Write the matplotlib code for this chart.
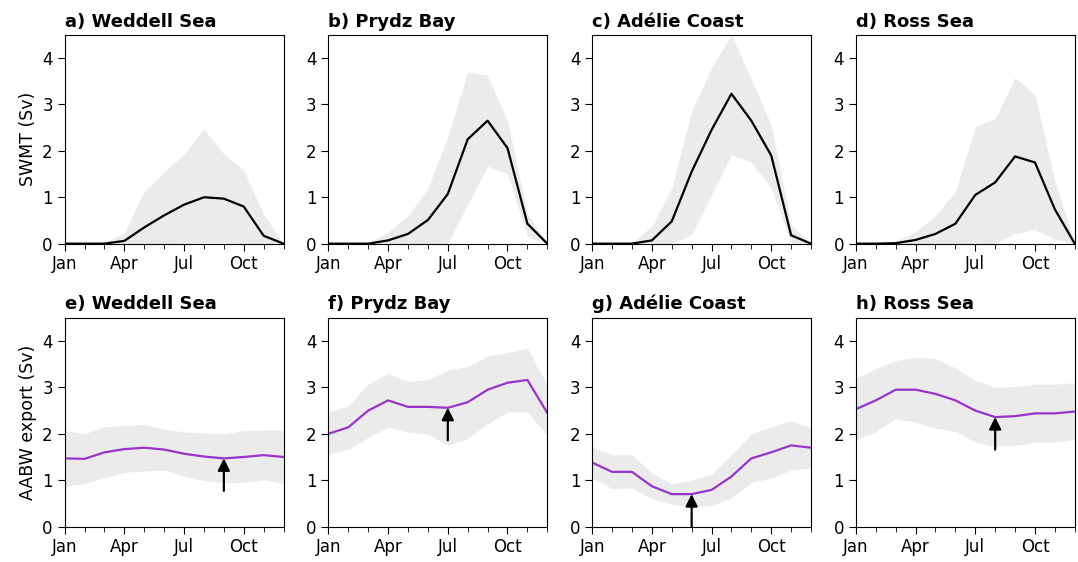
import numpy as np
import matplotlib
matplotlib.use("Agg")
import matplotlib.pyplot as plt

# ================================
# Data
# ================================
months = ["Jan", "Feb", "Mar", "Apr", "May", "Jun",
          "Jul", "Aug", "Sep", "Oct", "Nov", "Dec"]
regions = ["Weddell Sea", "Prydz Bay", "Adélie Coast", "Ross Sea"]

# SWMT (Sv): mean, upper and lower envelope
swmt_mean = {
    "Weddell Sea":  [0, 0, 0, 0.06, 0.35, 0.61, 0.84, 1.00, 0.97, 0.80, 0.17, 0],
    "Prydz Bay":    [0, 0, 0, 0.07, 0.21, 0.51, 1.07, 2.25, 2.65, 2.06, 0.43, 0],
    "Adélie Coast": [0, 0, 0, 0.07, 0.48, 1.55, 2.45, 3.23, 2.65, 1.90, 0.18, 0],
    "Ross Sea":     [0, 0, 0.01, 0.08, 0.21, 0.43, 1.05, 1.32, 1.88, 1.75, 0.74, 0],
}
swmt_hi = {
    "Weddell Sea":  [0, 0.02, 0.03, 0.23, 1.13, 1.55, 1.93, 2.47, 1.93, 1.58, 0.63, 0],
    "Prydz Bay":    [0, 0, 0.02, 0.25, 0.60, 1.20, 2.30, 3.70, 3.63, 2.65, 0.65, 0],
    "Adélie Coast": [0, 0, 0.02, 0.38, 1.20, 2.85, 3.80, 4.50, 3.55, 2.55, 0.40, 0],
    "Ross Sea":     [0, 0.01, 0.05, 0.26, 0.60, 1.12, 2.52, 2.70, 3.58, 3.20, 1.35, 0],
}
swmt_lo = {
    "Weddell Sea":  [0, 0, 0, 0, 0, 0, 0, 0.02, 0.02, 0, 0, 0],
    "Prydz Bay":    [0, 0, 0, 0, 0, 0, 0, 0.85, 1.67, 1.50, 0.15, 0],
    "Adélie Coast": [0, 0, 0, 0, 0, 0.20, 1.05, 1.92, 1.75, 1.20, 0.02, 0],
    "Ross Sea":     [0, 0, 0, 0, 0, 0, 0, 0, 0.22, 0.30, 0.10, 0],
}

# AABW export (Sv): mean, upper and lower envelope
aabw_mean = {
    "Weddell Sea":  [1.47, 1.46, 1.60, 1.67, 1.70, 1.66, 1.57, 1.51, 1.47, 1.50, 1.54, 1.50],
    "Prydz Bay":    [2.00, 2.14, 2.50, 2.72, 2.58, 2.58, 2.56, 2.68, 2.95, 3.10, 3.16, 2.45],
    "Adélie Coast": [1.38, 1.18, 1.18, 0.87, 0.70, 0.70, 0.79, 1.08, 1.47, 1.60, 1.75, 1.70],
    "Ross Sea":     [2.53, 2.72, 2.95, 2.95, 2.86, 2.72, 2.50, 2.36, 2.38, 2.44, 2.44, 2.48],
}
aabw_hi = {
    "Weddell Sea":  [2.07, 2.00, 2.15, 2.18, 2.20, 2.10, 2.04, 2.02, 2.00, 2.07, 2.08, 2.08],
    "Prydz Bay":    [2.47, 2.60, 3.08, 3.30, 3.12, 3.17, 3.37, 3.45, 3.68, 3.75, 3.85, 3.05],
    "Adélie Coast": [1.72, 1.55, 1.55, 1.15, 0.92, 1.00, 1.13, 1.55, 2.00, 2.15, 2.28, 2.13],
    "Ross Sea":     [3.20, 3.40, 3.58, 3.64, 3.62, 3.42, 3.15, 3.00, 3.02, 3.07, 3.07, 3.10],
}
aabw_lo = {
    "Weddell Sea":  [0.88, 0.93, 1.05, 1.17, 1.20, 1.22, 1.09, 0.99, 0.95, 0.95, 1.01, 0.93],
    "Prydz Bay":    [1.57, 1.67, 1.92, 2.14, 2.04, 1.99, 1.75, 1.90, 2.22, 2.47, 2.47, 1.95],
    "Adélie Coast": [1.05, 0.82, 0.83, 0.60, 0.48, 0.42, 0.45, 0.62, 0.95, 1.05, 1.22, 1.27],
    "Ross Sea":     [1.87, 2.05, 2.33, 2.25, 2.12, 2.05, 1.82, 1.73, 1.75, 1.82, 1.82, 1.88],
}

# month index where the arrow points
arrow_month = {"Weddell Sea": 8, "Prydz Bay": 6, "Adélie Coast": 5, "Ross Sea": 7}

top_letters = ["a", "b", "c", "d"]
bot_letters = ["e", "f", "g", "h"]

# ================================
# Plot
# ================================
x = np.arange(len(months))
shade = "#ebebeb"
purple = "#9933cc"

fig, axes = plt.subplots(2, 4, figsize=(10.78, 5.62), dpi=100)
fig.subplots_adjust(left=0.060, right=0.997, top=0.938, bottom=0.063,
                    wspace=0.205, hspace=0.355)


def style_axis(ax):
    ax.set_xlim(0, 11)
    ax.set_ylim(0, 4.5)
    ax.set_xticks([0, 3, 6, 9])
    ax.set_xticklabels(["Jan", "Apr", "Jul", "Oct"])
    ax.set_xticks(x, minor=True)
    ax.set_yticks([0, 1, 2, 3, 4])
    ax.tick_params(axis="both", which="major", labelsize=12, length=5)
    ax.tick_params(axis="x", which="minor", length=3.5)


for i, reg in enumerate(regions):
    ax = axes[0, i]
    ax.fill_between(x, swmt_lo[reg], swmt_hi[reg], color=shade, lw=0)
    ax.plot(x, swmt_mean[reg], color="black", lw=1.6)
    style_axis(ax)
    ax.set_title(f"{top_letters[i]}) {reg}", loc="left",
                 fontweight="bold", fontsize=13)

    ax = axes[1, i]
    ax.fill_between(x, aabw_lo[reg], aabw_hi[reg], color=shade, lw=0)
    ax.plot(x, aabw_mean[reg], color=purple, lw=1.6)
    m = arrow_month[reg]
    y_tip = aabw_mean[reg][m]
    ax.annotate("", xy=(x[m], y_tip), xytext=(x[m], y_tip - 0.7),
                arrowprops=dict(arrowstyle="-|>", color="black", lw=1.6,
                                mutation_scale=18, shrinkA=0, shrinkB=0),
                annotation_clip=False)
    style_axis(ax)
    ax.set_title(f"{bot_letters[i]}) {reg}", loc="left",
                 fontweight="bold", fontsize=13)

axes[0, 0].set_ylabel("SWMT (Sv)", fontsize=12.5)
axes[1, 0].set_ylabel("AABW export (Sv)", fontsize=12.5)

plt.savefig("out.png", dpi=100)
